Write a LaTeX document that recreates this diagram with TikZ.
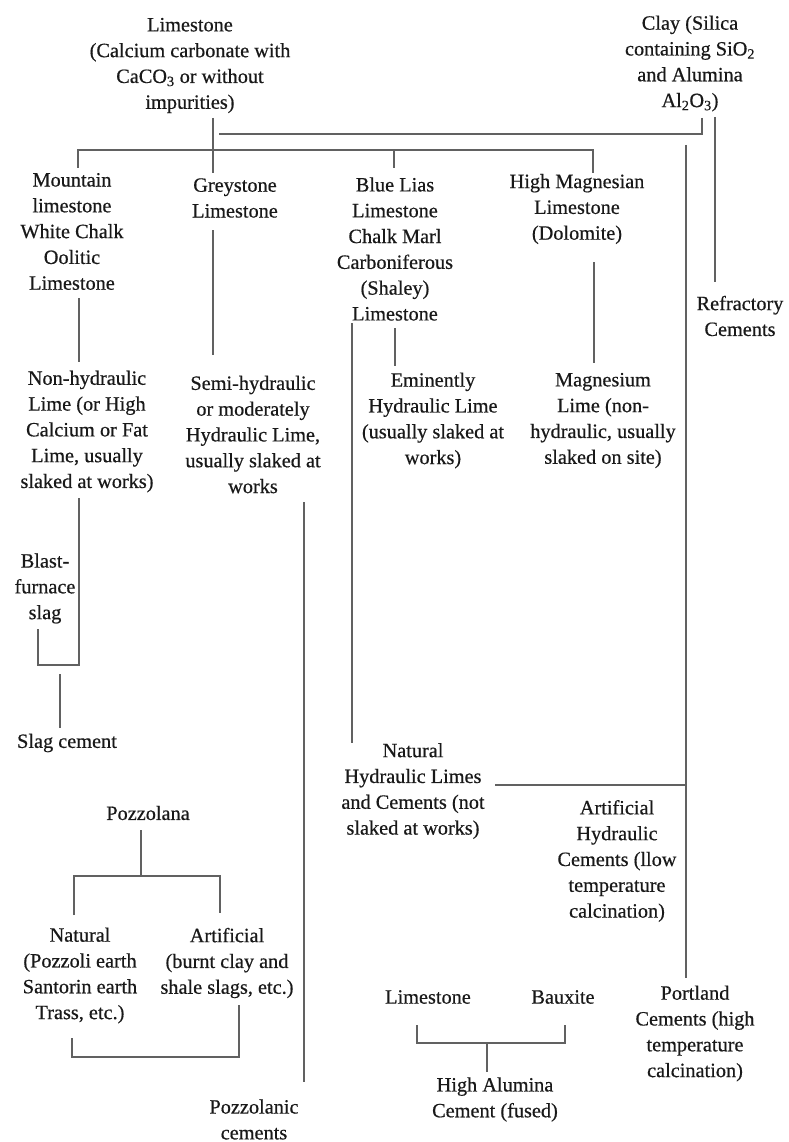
\documentclass[tikz,border=0pt]{standalone}
\usepackage{fontspec}
\setmainfont{Liberation Serif}
\newfontfamily\dfont{Liberation Serif}[FakeBold=0.5]
\begin{document}
\begin{tikzpicture}[x=1pt,y=-1pt,
  txt/.style={align=center,inner sep=0pt,text=black!90,font=\dfont\fontsize{20.3}{25.8}\selectfont},
  conn/.style={draw=black!62,line width=1.1pt}]
\useasboundingbox[fill=white] (0,0) rectangle (788,1142);
% ---- nodes
\node[txt] (lime) at (190,65.5) {Limestone\\(Calcium carbonate with\\CaCO\textsubscript{3} or without\\impurities)};
\node[txt] (clay) at (690,63.5) {Clay (Silica\\containing SiO\textsubscript{2}\\and Alumina\\Al\textsubscript{2}O\textsubscript{3})};
\node[txt] (mount) at (72,231.5) {Mountain\\limestone\\White Chalk\\Oolitic\\Limestone};
\node[txt] (grey) at (235,198) {Greystone\\Limestone};
\node[txt] (blue) at (395,249) {Blue Lias\\Limestone\\Chalk Marl\\Carboniferous\\(Shaley)\\Limestone};
\node[txt] (magn) at (577,209) {High Magnesian\\Limestone\\(Dolomite)};
\node[txt] (refr) at (740,316) {Refractory\\Cements};
\node[txt] (nonh) at (87,431.5) {Non-hydraulic\\Lime (or High\\Calcium or Fat\\Lime, usually\\slaked at works)};
\node[txt] (semi) at (253,434.5) {Semi-hydraulic\\or moderately\\Hydraulic Lime,\\usually slaked at\\works};
\node[txt] (emin) at (433,420.5) {Eminently\\Hydraulic Lime\\(usually slaked at\\works)};
\node[txt] (mgl) at (603,420.5) {Magnesium\\Lime (non-\\hydraulic, usually\\slaked on site)};
\node[txt] (blast) at (45,588.5) {Blast-\\furnace\\slag};
\node[txt] (slagc) at (67,743) {Slag cement};
\node[txt] (pozz) at (148,813) {Pozzolana};
\node[txt] (nat) at (80,975.5) {Natural\\(Pozzoli earth\\Santorin earth\\Trass, etc.)};
\node[txt] (art) at (227,963) {Artificial\\(burnt clay and\\shale slags, etc.)};
\node[txt] (pozc) at (254,1119.5) {Pozzolanic\\cements};
\node[txt] (nhl) at (413,791) {Natural\\Hydraulic Limes\\and Cements (not\\slaked at works)};
\node[txt] (ahc) at (617,861) {Artificial\\Hydraulic\\Cements (llow\\temperature\\calcination)};
\node[txt] (port) at (695,1033.5) {Portland\\Cements (high\\temperature\\calcination)};
\node[txt] (lime2) at (428,997) {Limestone};
\node[txt] (baux) at (563,997) {Bauxite};
\node[txt] (hac) at (495,1099.5) {High Alumina\\Cement (fused)};
% ---- connector end points
\coordinate (limeB) at (213,118);
\coordinate (greyT) at (213,173);
\coordinate (mountT) at (78,168);
\coordinate (busL) at (78,150);
\coordinate (busR) at (593,150);
\coordinate (magnT) at (593,173);
\coordinate (blueJ) at (394,150);
\coordinate (blueT) at (394,168);
\coordinate (clayB) at (702,118);
\coordinate (clayJ) at (702,134);
\coordinate (clayL) at (219,134);
\coordinate (clayB2) at (715,117);
\coordinate (refrT) at (715,282);
\coordinate (ahcT) at (686,145);
\coordinate (portT) at (686,978);
\coordinate (mountB) at (79,298);
\coordinate (nonhT) at (79,362);
\coordinate (greyB) at (213,230);
\coordinate (semiT) at (213,355);
\coordinate (blueB) at (395,328);
\coordinate (eminT) at (395,366);
\coordinate (blueB2) at (352,323);
\coordinate (nhlT) at (352,743);
\coordinate (magnB) at (594,262);
\coordinate (mglT) at (594,363);
\coordinate (nonhB) at (79,498);
\coordinate (slagJ1) at (79,665);
\coordinate (slagJ2) at (38,665);
\coordinate (blastB) at (38,629);
\coordinate (slagB) at (60,674);
\coordinate (slagcT) at (60,728);
\coordinate (semiB) at (304,502);
\coordinate (pozcT) at (304,1082);
\coordinate (pozzB) at (141,830);
\coordinate (pozzJ) at (141,876);
\coordinate (pbL) at (74,876);
\coordinate (pbR) at (220,876);
\coordinate (natT) at (74,915);
\coordinate (artT) at (220,913);
\coordinate (natB) at (72,1038);
\coordinate (pcL) at (72,1057);
\coordinate (pcR) at (239,1057);
\coordinate (artB) at (239,1005);
\coordinate (nhlR) at (495,785);
\coordinate (nhlJ) at (686,785);
\coordinate (lime2B) at (417,1025);
\coordinate (haL) at (417,1043);
\coordinate (haR) at (565,1043);
\coordinate (bauxB) at (565,1025);
\coordinate (haJ) at (487,1043);
\coordinate (hacT) at (487,1072);
% ---- connectors
\draw[conn] (limeB) -- (greyT);
\draw[conn] (mountT) -- (busL) -- (busR) -- (magnT);
\draw[conn] (blueJ) -- (blueT);
\draw[conn] (clayB) -- (clayJ) -- (clayL);
\draw[conn] (clayB2) -- (refrT);
\draw[conn] (ahcT) -- (portT);
\draw[conn] (mountB) -- (nonhT);
\draw[conn] (greyB) -- (semiT);
\draw[conn] (blueB) -- (eminT);
\draw[conn] (blueB2) -- (nhlT);
\draw[conn] (magnB) -- (mglT);
\draw[conn] (nonhB) -- (slagJ1) -- (slagJ2) -- (blastB);
\draw[conn] (slagB) -- (slagcT);
\draw[conn] (semiB) -- (pozcT);
\draw[conn] (pozzB) -- (pozzJ);
\draw[conn] (natT) -- (pbL) -- (pbR) -- (artT);
\draw[conn] (natB) -- (pcL) -- (pcR) -- (artB);
\draw[conn] (nhlR) -- (nhlJ);
\draw[conn] (lime2B) -- (haL) -- (haR) -- (bauxB);
\draw[conn] (haJ) -- (hacT);
\end{tikzpicture}
\end{document}
